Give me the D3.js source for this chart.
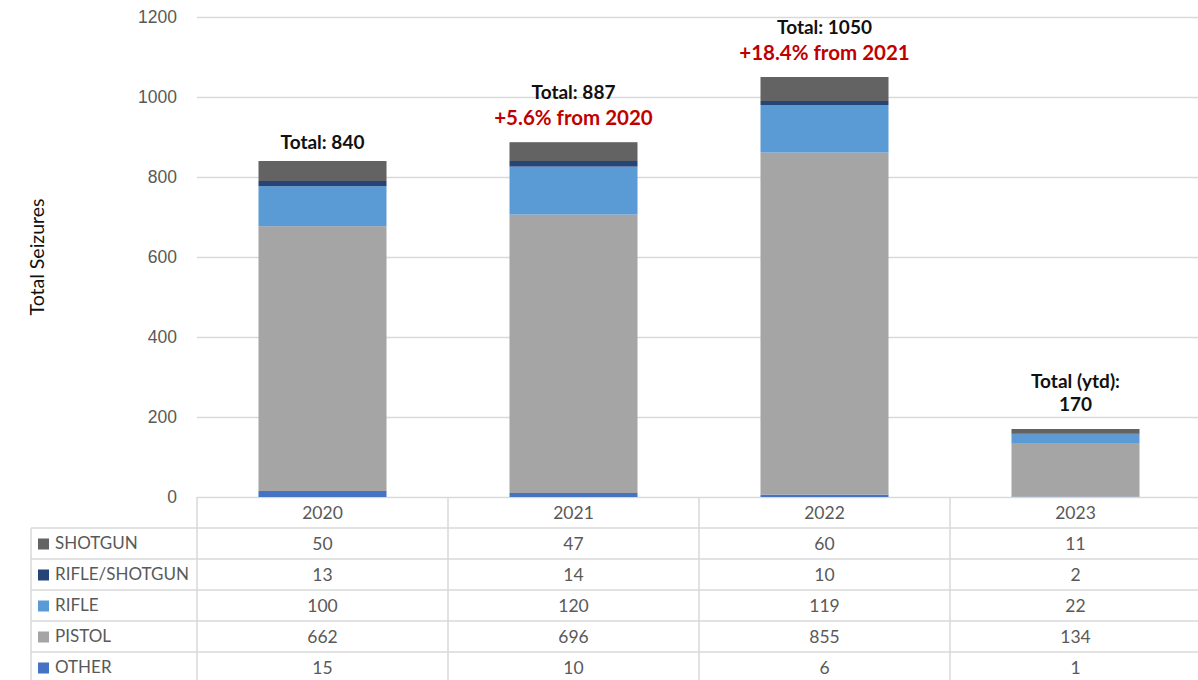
<!DOCTYPE html>
<html>
<head>
<meta charset="utf-8">
<script src="https://cdn.jsdelivr.net/npm/d3@7"></script>
<style>
body { margin: 0; background: #fff; }
svg { display: block; font-family: Lato, "Open Sans", sans-serif; }
</style>
</head>
<body>
<svg></svg>
<script>
// data
let years = ["2020", "2021", "2022", "2023"]
let seriesNames = ["SHOTGUN", "RIFLE/SHOTGUN", "RIFLE", "PISTOL", "OTHER"]
let shotgun = [50, 47, 60, 11]
let rifleShotgun = [13, 14, 10, 2]
let rifle = [100, 120, 119, 22]
let pistol = [662, 696, 855, 134]
let other = [15, 10, 6, 1]
let totalLabels = [["Total: 840"], ["Total: 887"], ["Total: 1050"], ["Total (ytd):", "170"]]
let changeLabels = ["", "+5.6% from 2020", "+18.4% from 2021", ""]
let yTicks = [0, 200, 400, 600, 800, 1000, 1200]

let colors = {
    "SHOTGUN": "#636363",
    "RIFLE/SHOTGUN": "#264478",
    "RIFLE": "#5b9bd5",
    "PISTOL": "#a5a5a5",
    "OTHER": "#4472c4"
}
let seriesValues = {
    "SHOTGUN": shotgun,
    "RIFLE/SHOTGUN": rifleShotgun,
    "RIFLE": rifle,
    "PISTOL": pistol,
    "OTHER": other
}

let width = 1198
let height = 680
let plotLeft = 197
let plotRight = 1201
let rowH = 31
let tableTop = 497
let legendLeft = 31
let gridColor = "#d9d9d9"
let textColor = "#595959"

let svg = d3.select("svg").attr("width", width).attr("height", height)

let rows = years.map((yr, i) => {
    let r = { year: yr }
    seriesNames.forEach(s => { r[s] = seriesValues[s][i] })
    return r
})

let xScale = d3.scaleBand().domain(years).range([plotLeft, plotRight])
let yScale = d3.scaleLinear().domain([0, 1200]).range([497, 17])
let barW = xScale.bandwidth() * 0.51

// gridlines + tick labels
let yAxis = d3.axisLeft(yScale)
    .tickValues(yTicks)
    .tickFormat(d3.format("d"))
    .tickSizeInner(-(plotRight - plotLeft))
    .tickSizeOuter(0)
    .tickPadding(20)

let gy = svg.append("g")
    .attr("transform", "translate(" + plotLeft + ",0)")
    .call(yAxis)
gy.select(".domain").remove()
gy.selectAll("line").attr("stroke", gridColor).attr("stroke-width", 1.5)
gy.selectAll("text").attr("fill", textColor).style("font-size", "17.5px")

svg.append("text")
    .attr("transform", "translate(44," + 257 + ") rotate(-90)")
    .attr("text-anchor", "middle")
    .style("font-size", "19.5px")
    .attr("fill", "#111")
    .text("Total Seizures")

// stacked bars, bottom to top
let stackKeys = seriesNames.slice().reverse()
let stacked = d3.stack().keys(stackKeys)(rows)

svg.append("g")
    .selectAll("g")
    .data(stacked)
    .enter()
    .append("g")
    .attr("fill", d => colors[d.key])
    .selectAll("rect")
    .data(d => d)
    .enter()
    .append("rect")
    .attr("x", d => xScale(d.data.year) + (xScale.bandwidth() - barW) / 2)
    .attr("width", barW)
    .attr("y", d => yScale(d[1]))
    .attr("height", d => yScale(d[0]) - yScale(d[1]))

// annotations above bars
let totals = rows.map(r => d3.sum(seriesNames, s => r[s]))
years.forEach((yr, i) => {
    let cx = xScale(yr) + xScale.bandwidth() / 2
    let top = yScale(totals[i])
    let lines = totalLabels[i]
    let hasChange = changeLabels[i] != ""
    let last = hasChange ? top - 43 : (lines.length > 1 ? top - 18 : top - 12)
    lines.forEach((t, j) => {
        svg.append("text")
            .attr("x", cx)
            .attr("y", last - (lines.length - 1 - j) * 23)
            .attr("text-anchor", "middle")
            .style("font-size", "19px")
            .style("font-weight", "bold")
            .attr("fill", "#111")
            .text(t)
    })
    if (hasChange) {
        svg.append("text")
            .attr("x", cx)
            .attr("y", top - 17)
            .attr("text-anchor", "middle")
            .style("font-size", "20.5px")
            .style("font-weight", "bold")
            .attr("fill", "#c00000")
            .text(changeLabels[i])
    }
})

// data table under the chart
let table = svg.append("g")
let tableBottom = tableTop + rowH * (seriesNames.length + 1)

// horizontal lines
for (let k = 1; k <= seriesNames.length; k++) {
    table.append("line")
        .attr("x1", legendLeft).attr("x2", plotRight)
        .attr("y1", tableTop + k * rowH).attr("y2", tableTop + k * rowH)
        .attr("stroke", gridColor).attr("stroke-width", 1.5)
}
// vertical lines
let colEdges = years.map(y => xScale(y))
colEdges.forEach(x => {
    table.append("line")
        .attr("x1", x).attr("x2", x)
        .attr("y1", tableTop).attr("y2", tableBottom)
        .attr("stroke", gridColor).attr("stroke-width", 1.5)
})
table.append("line")
    .attr("x1", legendLeft).attr("x2", legendLeft)
    .attr("y1", tableTop + rowH).attr("y2", tableBottom)
    .attr("stroke", gridColor).attr("stroke-width", 1.5)

// header row
years.forEach(yr => {
    table.append("text")
        .attr("x", xScale(yr) + xScale.bandwidth() / 2)
        .attr("y", tableTop + rowH / 2)
        .attr("dy", "0.35em")
        .attr("text-anchor", "middle")
        .style("font-size", "17.5px")
        .attr("fill", textColor)
        .text(yr)
})

// series rows
seriesNames.forEach((s, k) => {
    let cy = tableTop + (k + 1) * rowH + rowH / 2
    table.append("rect")
        .attr("x", 38).attr("y", cy - 5)
        .attr("width", 11).attr("height", 11)
        .attr("fill", colors[s])
    table.append("text")
        .attr("x", 55).attr("y", cy)
        .attr("dy", "0.35em")
        .style("font-size", "17px")
        .attr("fill", textColor)
        .text(s)
    years.forEach((yr, i) => {
        table.append("text")
            .attr("x", xScale(yr) + xScale.bandwidth() / 2)
            .attr("y", cy)
            .attr("dy", "0.35em")
            .attr("text-anchor", "middle")
            .style("font-size", "17.5px")
            .attr("fill", textColor)
            .text(seriesValues[s][i])
    })
})
</script>
</body>
</html>
